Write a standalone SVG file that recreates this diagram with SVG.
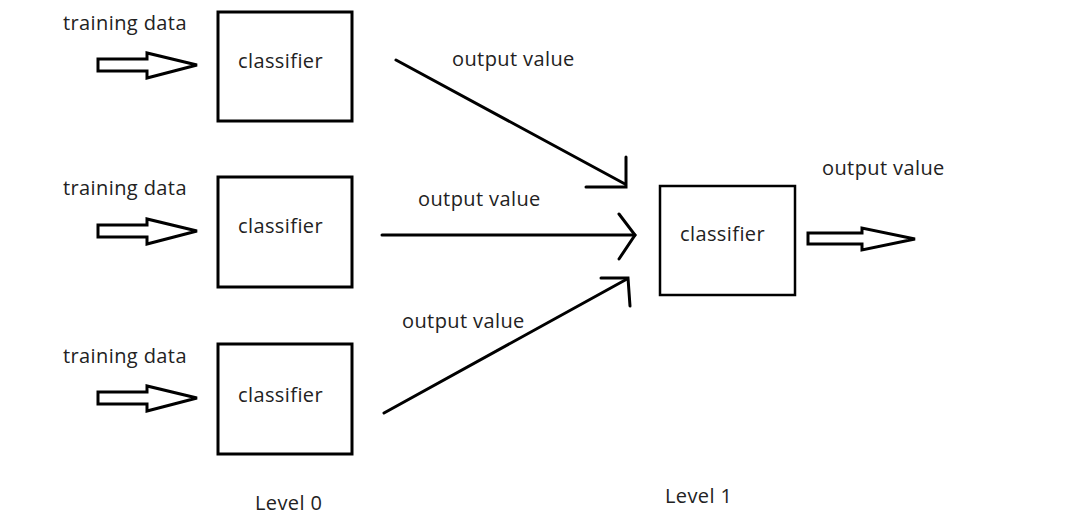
<svg xmlns="http://www.w3.org/2000/svg" width="1074" height="520" viewBox="0 0 1074 520">
<style>
  text { font-family: "Open Sans", "Noto Sans", sans-serif; font-size: 20px; letter-spacing: 0.4px; fill: #222; }
  .box { fill: #fff; stroke: #000; stroke-width: 3; }
  .blk { fill: #fff; stroke: #000; stroke-width: 3; stroke-linejoin: miter; }
  .ln { fill: none; stroke: #000; stroke-width: 3; stroke-linecap: round; }
</style>
<rect width="1074" height="520" fill="#fff"/>
<defs>
  <polygon id="blockArrow" class="blk" points="0,-6 49,-6 49,-12 99,0 49,13 49,6 0,6 0,-6"/>
</defs>
<g id="input1">
  <text x="63" y="30">training data</text>
  <use href="#blockArrow" x="98" y="65"/>
</g>
<g id="classifier1">
  <rect class="box" x="218" y="12" width="134" height="109"/>
  <text x="238" y="68">classifier</text>
</g>
<g id="input2">
  <text x="63" y="195">training data</text>
  <use href="#blockArrow" x="98" y="231"/>
</g>
<g id="classifier2">
  <rect class="box" x="218" y="177" width="134" height="110"/>
  <text x="238" y="233">classifier</text>
</g>
<g id="input3">
  <text x="63" y="363">training data</text>
  <use href="#blockArrow" x="98" y="398"/>
</g>
<g id="classifier3">
  <rect class="box" x="218" y="344" width="134" height="110"/>
  <text x="238" y="402">classifier</text>
</g>
<g id="classifier4">
  <rect class="box" x="660" y="186" width="135" height="109" style="stroke-width:2.5"/>
  <text x="680" y="241">classifier</text>
</g>
<g id="output">
  <polygon class="blk" points="808,233 862,233 862,228 915,239 862,250 862,244 808,244 808,233"/>
  <text x="822" y="175">output value</text>
</g>
<g id="connectors">
  <line class="ln" x1="396" y1="60" x2="625" y2="184"/>
  <polyline class="ln" points="626,157 626,187 586,187"/>
  <text x="452" y="66">output value</text>
  <line class="ln" x1="382" y1="235" x2="635" y2="235"/>
  <polyline class="ln" points="619,214 635,235 619,259"/>
  <text x="418" y="206">output value</text>
  <line class="ln" x1="384" y1="413" x2="627" y2="279"/>
  <polyline class="ln" points="601,278 628,278 630,306"/>
  <text x="402" y="328">output value</text>
</g>
<g id="levels">
  <text x="255" y="510">Level 0</text>
  <text x="665" y="503">Level 1</text>
</g>
</svg>
